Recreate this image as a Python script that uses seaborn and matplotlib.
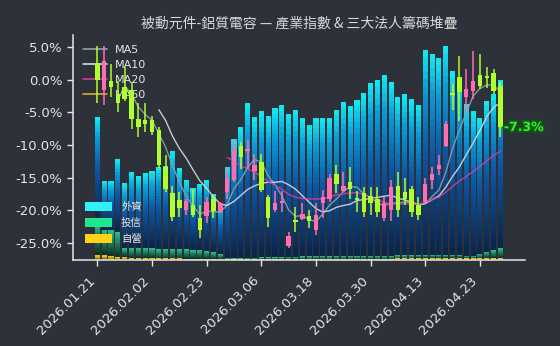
import numpy as np
import pandas as pd
import matplotlib
matplotlib.use("Agg")
import matplotlib.pyplot as plt
import seaborn as sns
from matplotlib.colors import LinearSegmentedColormap
from matplotlib.lines import Line2D
from matplotlib.patches import Patch
import matplotlib.patheffects as pe

# ---------------- data ----------------
dates = ["2026.01.21", "2026.01.22", "2026.01.23", "2026.01.26", "2026.01.27", "2026.01.28",
         "2026.01.29", "2026.01.30", "2026.02.02", "2026.02.03", "2026.02.04", "2026.02.05",
         "2026.02.06", "2026.02.09", "2026.02.10", "2026.02.11", "2026.02.23", "2026.02.24",
         "2026.02.25", "2026.02.26", "2026.03.02", "2026.03.03", "2026.03.04", "2026.03.05",
         "2026.03.06", "2026.03.09", "2026.03.10", "2026.03.11", "2026.03.12", "2026.03.13",
         "2026.03.16", "2026.03.17", "2026.03.18", "2026.03.19", "2026.03.20", "2026.03.23",
         "2026.03.24", "2026.03.25", "2026.03.26", "2026.03.27", "2026.03.30", "2026.03.31",
         "2026.04.01", "2026.04.02", "2026.04.07", "2026.04.08", "2026.04.09", "2026.04.10",
         "2026.04.13", "2026.04.14", "2026.04.15", "2026.04.16", "2026.04.17", "2026.04.20",
         "2026.04.21", "2026.04.22", "2026.04.23", "2026.04.24", "2026.04.27", "2026.04.28"]

open_ = [2.6, -1.6, -0.15, -2.2, -1.1, -1.6, -6.0, -6.2, -6.2, -7.7,
         -13.4, -17.4, -18.4, -20.0, -19.2, -21.1, -20.8, -18.2, -20.2, -17.2,
         -15.4, -10.1, -10.9, -13.9, -12.6, -17.9, -20.0, -18.9, -25.5, -21.6,
         -21.3, -20.9, -23.0, -18.9, -18.2, -14.5, -17.1, -15.6, -18.2, -17.3,
         -17.8, -18.2, -21.2, -19.9, -16.2, -17.2, -16.7, -19.2, -18.7, -15.4,
         -13.7, -10.1, -2.1, 0.35, -2.7, -1.7, 0.71, 0.5, 1.0, -0.9]
high = [5.2, 5.2, 2.4, -0.15, 1.9, -0.4, -3.5, -3.5, -5.5, -7.2,
        -11.6, -16.2, -17.2, -18.2, -16.7, -19.2, -17.9, -17.6, -18.7, -13.4,
        -9.3, -9.5, -9.3, -11.3, -11.3, -17.6, -17.1, -17.1, -23.3, -19.5,
        -18.9, -20.0, -18.9, -16.9, -14.4, -13.1, -14.1, -13.4, -17.1, -16.4,
        -16.4, -16.4, -17.9, -15.4, -14.1, -15.1, -16.2, -17.9, -15.1, -13.4,
        -11.6, -6.3, -0.7, 3.7, 1.6, 4.4, 3.9, 1.9, 1.6, -0.4]
low = [-3.6, -3.8, -2.7, -5.0, -3.2, -7.5, -8.8, -8.0, -8.5, -13.5,
       -17.2, -21.7, -21.0, -20.7, -21.0, -24.3, -22.0, -21.2, -20.4, -18.2,
       -15.6, -13.6, -13.6, -15.4, -17.2, -22.5, -20.2, -20.2, -25.8, -23.3,
       -21.5, -22.7, -23.8, -21.2, -18.7, -17.4, -17.2, -18.2, -20.2, -21.0,
       -20.7, -21.0, -21.7, -21.7, -21.0, -19.2, -21.0, -21.5, -19.0, -16.7,
       -14.6, -10.3, -4.7, -6.3, -5.0, -2.95, -1.4, -1.2, -2.2, -8.8]
close = [0.0, 2.9, -1.05, -3.6, -3.0, -6.0, -7.2, -6.8, -8.0, -13.1,
         -16.7, -21.0, -19.7, -18.5, -20.7, -23.0, -18.7, -20.1, -18.9, -15.1,
         -10.6, -11.8, -10.6, -13.0, -16.9, -21.2, -18.9, -18.7, -24.0, -21.8,
         -20.6, -21.7, -20.7, -17.9, -15.1, -15.9, -16.2, -16.7, -18.4, -20.2,
         -18.8, -20.2, -18.9, -16.4, -19.9, -18.2, -20.2, -20.7, -16.0, -14.4,
         -13.1, -6.8, -2.3, -1.9, -1.4, -0.15, -0.91, 0.3, -1.7, -7.3]

# three institutional investors (stacked chip amounts)
foreign = [105, 49, 49, 73, 65, 76, 72, 75, 77, 82,
           83, 98, 81, 69, 62, 66, 71, 58, 50, 91,
           119, 131, 155, 141, 146, 141, 149, 152, 143, 147,
           138, 131, 138, 138, 138, 146, 154, 150, 156, 163,
           173, 176, 181, 174, 158, 161, 156, 150, 205, 201,
           197, 209, 184, 172, 152, 145, 136, 151, 156, 168]
trust = [33, 25, 26, 25, 9, 10, 10, 10, 10, 9.5,
         9.5, 9.5, 9.5, 9.7, 8.7, 9, 8, 6.7, 4.7, 1.3,
         1, 1, 1.5, 1.5, 2, 2, 2, 2, 2.5, 2.5,
         3, 3, 3.5, 3.5, 3, 3.5, 3.5, 3.5, 3.5, 3.5,
         3.5, 3.5, 3.5, 3.5, 3, 3, 3, 3, 3, 3,
         3, 3, 3, 3, 2.5, 2.5, 4.5, 6.5, 8, 10]
dealer = [5, 5, 4, 3, 3, 1.7, 1.5, 1.5, 1.5, 1.5,
          1.5, 1.5, 1.5, 1.3, 1.3, 1, 1, 1, 1, 0.7,
          0.5, 0.5, 0.5, 0.5, 0.5, 0.5, 0.5, 0.5, 0.5, 0.5,
          0.5, 0.5, 0.5, 0.5, 0.5, 0.5, 0.5, 0.5, 0.5, 0.5,
          0.5, 0.5, 0.5, 0.5, 1.5, 1.5, 1.5, 2, 2, 2,
          2, 2, 2, 2, 1.5, 1.5, 1.5, 1.8, 2, 1.7]

ma_windows = [5, 10, 20, 60]
ma_labels = ["MA5", "MA10", "MA20", "MA60"]
inst_labels = ["外資", "投信", "自營"]
title = "被動元件-鋁質電容 — 產業指數 & 三大法人籌碼堆疊"
tick_step = 8

# ---------------- style ----------------
BG = "#2d3139"
FG = "#e6e6e6"
PINK = "#ff6eb4"
LIME = "#adff2f"
MA_COLORS = ["#8aa2ac", "#d3dce4", "#d13f9e", "#e8a23a"]
INST_COLORS = ["#2ef0f6", "#1ee88e", "#ffd21a"]
CJK = ["Noto Sans CJK TC", "DejaVu Sans"]

sns.set_theme(style="dark", rc={
    "axes.facecolor": BG, "figure.facecolor": BG, "axes.edgecolor": FG,
    "text.color": FG, "xtick.color": FG, "ytick.color": FG,
    "axes.grid": False,
})
plt.rcParams["font.family"] = ["DejaVu Sans", "Noto Sans CJK TC"]

cmap_f = LinearSegmentedColormap.from_list(
    "f", [(0, "#0a2448"), (0.5, "#0d55a2"), (0.8, "#0a9ad6"), (1, "#14ecf2")])
cmap_t = LinearSegmentedColormap.from_list("t", [(0, "#0c2e24"), (1, "#2cc08c")])
cmap_d = LinearSegmentedColormap.from_list("d", [(0, "#7a6400"), (1, "#ffd21a")])

x = np.arange(len(dates))
o = np.array(open_); h = np.array(high); l = np.array(low); c = np.array(close)
fv = np.array(foreign, float); tv = np.array(trust, float); dv = np.array(dealer, float)

fig = plt.figure(figsize=(5.6, 3.46), dpi=100, facecolor=BG)
ax = fig.add_axes([0.1304, 0.2486, 0.8071, 0.6503])
ax2 = ax.twinx()
ax.set_zorder(ax2.get_zorder() + 1)
ax.patch.set_visible(False)

# ---------------- stacked gradient bars ----------------
BW = 0.75
def grad_bars(axis, bottom, height, cmap, n):
    for k in range(n):
        axis.bar(x, height / n, bottom=bottom + height * k / n, width=BW,
                 color=cmap((k + 0.5) / n), linewidth=0, zorder=1)

grad_bars(ax2, np.zeros_like(dv), dv, cmap_d, 3)
grad_bars(ax2, dv, tv, cmap_t, 10)
grad_bars(ax2, dv + tv, fv, cmap_f, 28)
ax2.set_ylim(0, 225)
ax2.set_yticks([])
for s in ax2.spines.values():
    s.set_visible(False)

# ---------------- moving averages ----------------
df = pd.DataFrame({"x": x, "close": c})
for w, lab, col in zip(ma_windows, ma_labels, MA_COLORS):
    df[lab] = df["close"].rolling(w).mean()
    sub = df.dropna(subset=[lab])
    if len(sub) > 0:
        sns.lineplot(data=sub, x="x", y=lab, ax=ax, color=col, lw=1.0,
                     alpha=0.9, legend=False, zorder=2)

# ---------------- candles ----------------
up = c >= o
cols = np.where(up, PINK, LIME)
ax.vlines(x, l, h, colors=cols, lw=1.1, zorder=3)
body = np.maximum(np.abs(c - o), 0.3)
ax.bar(x, body, bottom=np.minimum(o, c), width=0.65, color=cols, linewidth=0, zorder=4)

ax.text(x[-1] + 0.5, c[-1], f"{c[-1]:.1f}%", color="#3dea3d", fontsize=9,
        fontweight="bold", va="center", ha="left", zorder=6,
        path_effects=[pe.withStroke(linewidth=2.8, foreground="#0d5c0d")])

# ---------------- axes ----------------
ax.set_xlim(-3.56, 62.6)
ax.set_ylim(-27.6, 6.85)
yt = [-25, -20, -15, -10, -5, 0, 5]
ax.set_yticks(yt)
ax.set_yticklabels([f"{v:.1f}%" for v in yt])
xt = x[::tick_step]
ax.set_xticks(xt)
ax.set_xticklabels([dates[i] for i in xt], rotation=45, ha="right")
ax.tick_params(axis="both", colors=FG, labelsize=9.5, length=4, width=1,
               direction="out", bottom=True, left=True)
ax.tick_params(axis="x", pad=6)
ax.set_xlabel(""); ax.set_ylabel("")
for side in ["top", "right"]:
    ax.spines[side].set_visible(False)
for side in ["left", "bottom"]:
    ax.spines[side].set_color(FG)
    ax.spines[side].set_linewidth(1.1)

ax.set_title(title, fontsize=10, color="#d8d8d8", pad=5, fontfamily=CJK)

# ---------------- legends (on bar axis, beneath candles) ----------------
ma_handles = [Line2D([], [], color=col, lw=1.2) for col in MA_COLORS]
leg1 = ax2.legend(ma_handles, ma_labels, loc="upper left", frameon=False,
                  fontsize=8, labelcolor=FG, handlelength=2.2, handletextpad=0.7,
                  labelspacing=0.45, borderaxespad=0.5)
ax2.add_artist(leg1)
inst_handles = [Patch(facecolor=col, edgecolor="none") for col in INST_COLORS]
ax2.legend(inst_handles, inst_labels, loc="lower left", frameon=False,
           prop={"family": CJK, "size": 7.5}, labelcolor=FG, handlelength=2.6,
           handleheight=0.95, handletextpad=0.9, labelspacing=0.55,
           bbox_to_anchor=(0.005, 0.03))

fig.savefig("out.png", dpi=100, facecolor=BG)
